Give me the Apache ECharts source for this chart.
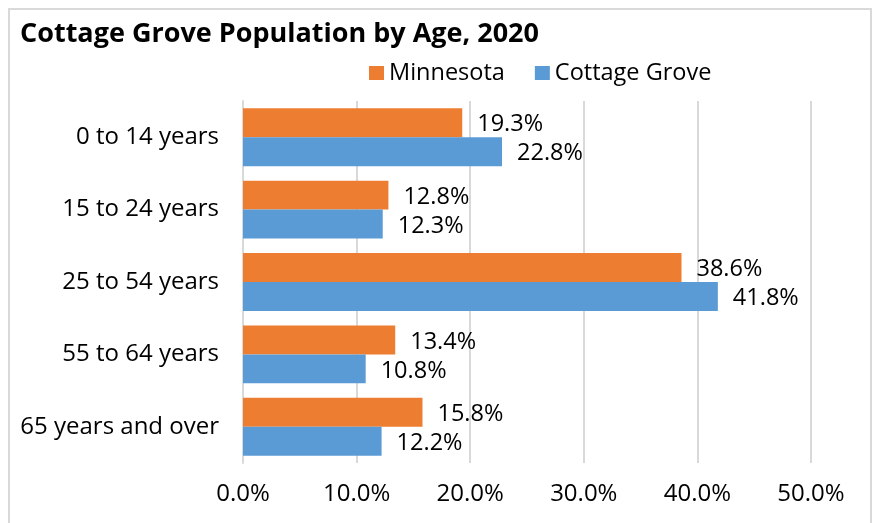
<!DOCTYPE html>
<html>
<head>
<meta charset="utf-8">
<title>Cottage Grove Population by Age, 2020</title>
<script src="https://cdn.jsdelivr.net/npm/echarts@6/dist/echarts.min.js"></script>
<style>
  html, body { margin: 0; padding: 0; background: #fff; }
  #chart { width: 876px; height: 523px; }
</style>
</head>
<body>
<div id="chart"></div>
<script>
const ageGroups = ['0 to 14 years', '15 to 24 years', '25 to 54 years', '55 to 64 years', '65 years and over']
const minnesota = [19.3, 12.8, 38.6, 13.4, 15.8]
const cottageGrove = [22.8, 12.3, 41.8, 10.8, 12.2]
const seriesNames = ['Minnesota', 'Cottage Grove']

const font = 'Open Sans'
const gridColor = '#d9d9d9'

const pct = (v) => Number(v).toFixed(1) + '%'

const chart = echarts.init(document.getElementById('chart'))
chart.setOption({
  animation: false,
  textStyle: { fontFamily: font },
  title: {
    text: 'Cottage Grove Population by Age, 2020',
    left: 15,
    top: 16,
    textStyle: { fontSize: 27, fontWeight: 'bold', color: '#000', fontFamily: font }
  },
  // chart border like the spreadsheet frame
  graphic: [{
    type: 'rect',
    shape: { x: 9, y: 9, width: 862, height: 530 },
    style: { fill: 'none', stroke: gridColor, lineWidth: 2 },
    silent: true
  }],
  legend: {
    data: seriesNames,
    left: 364,
    top: 56,
    itemWidth: 15,
    itemHeight: 14,
    itemGap: 30,
    icon: 'rect',
    textStyle: { fontSize: 23.5, color: '#000', fontFamily: font }
  },
  grid: { left: 243, right: 65, top: 101, bottom: 60 },
  xAxis: {
    type: 'value',
    min: 0,
    max: 50,
    interval: 10,
    axisLine: { show: false },
    axisTick: { show: false },
    splitLine: { lineStyle: { color: gridColor, width: 2 } },
    axisLabel: {
      formatter: pct,
      fontSize: 24,
      color: '#000',
      margin: 19,
      fontFamily: font
    }
  },
  yAxis: [
    {
      type: 'category',
      data: ageGroups,
      inverse: true,
      axisLine: { lineStyle: { color: gridColor, width: 2 } },
      axisTick: { length: 8, lineStyle: { color: gridColor, width: 2 } },
      axisLabel: { fontSize: 24, color: '#000', margin: 24, fontFamily: font }
    },
    {
      // second copy only to draw the inner half of the crossing ticks
      type: 'category',
      data: ageGroups,
      inverse: true,
      position: 'left',
      axisLine: { show: false },
      axisTick: { inside: true, length: 8, lineStyle: { color: gridColor, width: 2 } },
      axisLabel: { show: false },
      splitLine: { show: false }
    }
  ],
  series: [
    {
      name: seriesNames[0],
      type: 'bar',
      data: minnesota,
      barGap: '0%',
      barCategoryGap: '20%',
      itemStyle: { color: '#ED7D31' },
      label: {
        show: true,
        position: 'right',
        distance: 15,
        offset: [0, 2],
        formatter: (p) => pct(p.value),
        fontSize: 23.5,
        color: '#000',
        fontFamily: font
      }
    },
    {
      name: seriesNames[1],
      type: 'bar',
      data: cottageGrove,
      barGap: '0%',
      barCategoryGap: '20%',
      itemStyle: { color: '#5B9BD5' },
      label: {
        show: true,
        position: 'right',
        distance: 15,
        offset: [0, 2],
        formatter: (p) => pct(p.value),
        fontSize: 23.5,
        color: '#000',
        fontFamily: font
      }
    }
  ]
})
</script>
</body>
</html>
